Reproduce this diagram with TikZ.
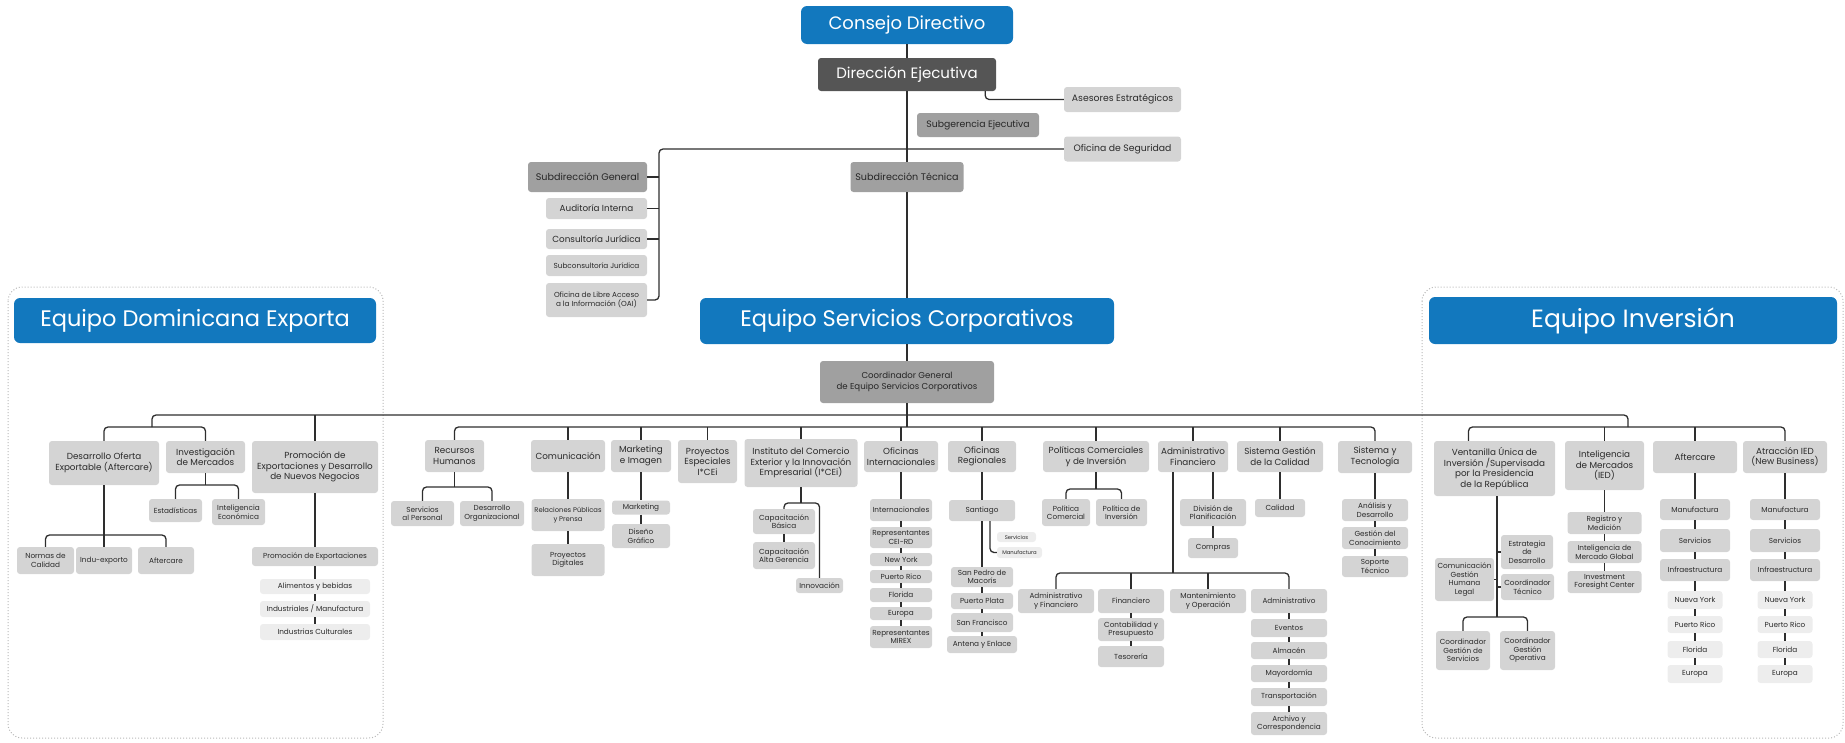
\documentclass[tikz,border=0pt]{standalone}
\usepackage{fontspec}
\setmainfont{Poppins}
\definecolor{orgblue}{HTML}{1278BE}
\definecolor{orgdark}{HTML}{555555}
\definecolor{orgmid}{HTML}{A0A0A0}
\definecolor{orggrey}{HTML}{D4D4D4}
\definecolor{orgpale}{HTML}{EDEDED}
\definecolor{orgline}{HTML}{2E2E2E}
\definecolor{orgtext}{HTML}{2A2A2A}
\definecolor{orgframe}{HTML}{B8B8B8}

\tikzset{
    box/.style={rounded corners=3pt, align=center, inner sep=1pt, text=orgtext,
      font=\fontsize{8.8}{10.5}\selectfont},
    bluebox/.style={box, fill=orgblue, text=white, rounded corners=6pt,
      font=\fontsize{22.5}{25}\selectfont},
    darkbox/.style={box, fill=orgdark, text=white, font=\fontsize{15}{17}\selectfont},
    midbox/.style={box, fill=orgmid, text=black!85, font=\fontsize{9.6}{11}\selectfont},
    greybox/.style={box, fill=orggrey},
    palebox/.style={box, fill=orgpale},
    small/.style={font=\fontsize{7.3}{8.5}\selectfont},
    tiny/.style={font=\fontsize{5.3}{6}\selectfont},
    wh/.style 2 args={minimum width=#1pt, minimum height=#2pt},
    conn/.style={draw=orgline, line width=1.3pt, rounded corners=4pt},
    frame/.style={draw=orgframe, line width=1pt, dash pattern=on 1pt off 2pt, rounded corners=14pt}
}

\begin{document}
\begin{tikzpicture}[x=1pt, y=-1pt]
    \useasboundingbox (0,0) rectangle (1845,742);

    % Dotted frames of the two teams
    \draw[frame] (8,287) rectangle (383,738);
    \draw[frame] (1422,287) rectangle (1843,738);

    % Top management
    \node[bluebox, wh={212}{38}, font=\fontsize{18}{20}\selectfont] (cd) at (907,25) {Consejo Directivo};
    \node[darkbox, wh={178}{33}] (de) at (907,74.5) {Dirección Ejecutiva};
    \node[greybox, wh={117}{25}, font=\fontsize{9.3}{11}\selectfont] (ase) at (1122.5,99.5) {Asesores Estratégicos};
    \node[midbox, wh={122}{24}, font=\fontsize{9.3}{11}\selectfont] (sge) at (978,125) {Subgerencia Ejecutiva};
    \node[greybox, wh={117}{25}, font=\fontsize{9.3}{11}\selectfont] (ofs) at (1122.5,149) {Oficina de Seguridad};
    \node[midbox, wh={119}{30}] (sdg) at (587.5,177) {Subdirección General};
    \node[midbox, wh={113}{30}] (sdt) at (907,177) {Subdirección Técnica};
    \node[greybox, wh={101}{21}] (aud) at (596.5,208.5) {Auditoría Interna};
    \node[greybox, wh={101}{20}] (cj) at (596.5,239) {Consultoría Jurídica};
    \node[greybox, wh={101}{21}, small] (scj) at (596.5,265.5) {Subconsultoría Jurídica};
    \node[greybox, wh={101}{34}, small] (oai) at (596.5,300) {Oficina de Libre Acceso\\a la Información (OAI)};

    % Teams
    \node[bluebox, wh={362}{45}] (ede) at (195,320.5) {Equipo Dominicana Exporta};
    \node[bluebox, wh={414}{46}] (esc) at (907,321) {Equipo Servicios Corporativos};
    \node[bluebox, wh={408}{47}, font=\fontsize{25}{28}\selectfont] (ein) at (1633,320.5) {Equipo Inversión};
    \node[midbox, wh={174}{42}, font=\fontsize{8.6}{10.5}\selectfont] (cg) at (907,382) {Coordinador General\\de Equipo Servicios Corporativos};

    % Equipo Dominicana Exporta
    \node[greybox, wh={110}{44}] (deo) at (104,463) {Desarrollo Oferta\\Exportable (Aftercare)};
    \node[greybox, wh={79}{32}] (inm) at (205.5,457) {Investigación\\de Mercados};
    \node[greybox, wh={126}{52}] (pro) at (315,467) {Promoción de\\Exportaciones y Desarrollo\\de Nuevos Negocios};
    \node[greybox, wh={53}{23}, small] (est) at (175.5,510.5) {Estadísticas};
    \node[greybox, wh={53}{26}, small] (ine) at (238.5,512) {Inteligencia\\Económica};
    \node[greybox, wh={57}{27}, small] (nor) at (45.5,560.5) {Normas de\\Calidad};
    \node[greybox, wh={56}{27}, small] (ind) at (104,560.5) {Indu-exporto};
    \node[greybox, wh={56}{27}, small] (aftc) at (166,560.5) {Aftercare};
    \node[greybox, wh={126}{19}, small] (pex) at (315,556.5) {Promoción de Exportaciones};
    \node[palebox, wh={110}{15}, small] (ali) at (315,586.5) {Alimentos y bebidas};
    \node[palebox, wh={110}{16}, small] (inma) at (315,609) {Industriales / Manufactura};
    \node[palebox, wh={110}{16}, small] (icu) at (315,632) {Industrias Culturales};

    % Equipo Servicios Corporativos
    \node[greybox, wh={59}{32}] (rh) at (454.5,456) {Recursos\\Humanos};
    \node[greybox, wh={74}{32}] (com) at (568,456) {Comunicación};
    \node[greybox, wh={60}{32}] (mkt) at (641,456) {Marketing\\e Imagen};
    \node[greybox, wh={59}{43}] (pes) at (707.5,461.5) {Proyectos\\Especiales\\I*CEi};
    \node[greybox, wh={113}{48}] (itc) at (801,463) {Instituto del Comercio\\Exterior y la Innovación\\Empresarial (I*CEi)};
    \node[greybox, wh={74}{31}] (oin) at (901,456.5) {Oficinas\\Internacionales};
    \node[greybox, wh={68}{31}] (ore) at (982,456.5) {Oficinas\\Regionales};
    \node[greybox, wh={106}{31}] (pol) at (1096,456.5) {Políticas Comerciales\\y de Inversión};
    \node[greybox, wh={70}{31}] (adf) at (1193,456.5) {Administrativo\\Financiero};
    \node[greybox, wh={86}{31}] (sgc) at (1280,456.5) {Sistema Gestión\\de la Calidad};
    \node[greybox, wh={74}{32}] (syt) at (1375,457) {Sistema y\\Tecnología};

    \node[greybox, wh={63}{25}, small] (spe) at (422.5,513.5) {Servicios\\al Personal};
    \node[greybox, wh={64}{25}, small] (dor) at (492,513.5) {Desarrollo\\Organizacional};
    \node[greybox, wh={73}{32}, font=\fontsize{6.8}{8.5}\selectfont] (rpp) at (568,515) {Relaciones Públicas\\y Prensa};
    \node[greybox, wh={73}{32}, small] (pdi) at (568,560) {Proyectos\\Digitales};
    \node[greybox, wh={58}{14}, small] (mk1) at (641,507.5) {Marketing};
    \node[greybox, wh={58}{24}, small] (dgr) at (641,536) {Diseño\\Gráfico};
    \node[greybox, wh={62}{25}, small] (cba) at (784,521.5) {Capacitación\\Básica};
    \node[greybox, wh={62}{27}, small] (cag) at (784,555.5) {Capacitación\\Alta Gerencia};
    \node[greybox, wh={47}{15}, small] (inn) at (819.5,585.5) {Innovación};

    \node[greybox, wh={62}{22}, small] (int) at (901,510) {Internacionales};
    \node[greybox, wh={62}{21}, small] (rce) at (901,537.5) {Representantes\\CEI-RD};
    \node[greybox, wh={62}{13}, small] (nyk) at (901,559.5) {New York};
    \node[greybox, wh={62}{13}, small] (pri) at (901,576.5) {Puerto Rico};
    \node[greybox, wh={62}{14}, small] (flo) at (901,595) {Florida};
    \node[greybox, wh={62}{13}, small] (eur) at (901,613.5) {Europa};
    \node[greybox, wh={62}{22}, small] (mir) at (901,637) {Representantes\\MIREX};

    \node[greybox, wh={66}{21}, small] (sant) at (982,510.5) {Santiago};
    \node[palebox, wh={39}{10}, tiny] (ssv) at (1016.5,537) {Servicios};
    \node[palebox, wh={45}{11}, tiny] (sma) at (1019.5,552.5) {Manufactura};
    \node[greybox, wh={62}{20}, small] (spm) at (982,577) {San Pedro de\\Macorís};
    \node[greybox, wh={62}{16}, small] (ppl) at (982,601) {Puerto Plata};
    \node[greybox, wh={62}{19}, small] (sfr) at (982,622.5) {San Francisco};
    \node[greybox, wh={70}{17}, small] (aen) at (982,644.5) {Antena y Enlace};

    \node[greybox, wh={48}{27}, small] (pco) at (1066,512.5) {Política\\Comercial};
    \node[greybox, wh={51}{27}, small] (pin) at (1121.5,512.5) {Política de\\Inversión};
    \node[greybox, wh={66}{27}, small] (dpl) at (1213,512.5) {División de\\Planificación};
    \node[greybox, wh={50}{20}, small] (cmp) at (1213,548) {Compras};
    \node[greybox, wh={50}{18}, small] (cal) at (1280,508) {Calidad};
    \node[greybox, wh={66}{22}, small] (ade) at (1375,510) {Análisis y\\Desarrollo};
    \node[greybox, wh={66}{22}, small] (gco) at (1375,538) {Gestión del\\Conocimiento};
    \node[greybox, wh={66}{21}, small] (sot) at (1375,566.5) {Soporte\\Técnico};

    \node[greybox, wh={76}{24}, small] (aef) at (1056,601) {Administrativo\\y Financiero};
    \node[greybox, wh={66}{24}, small] (fin) at (1131,601) {Financiero};
    \node[greybox, wh={76}{24}, small] (myo) at (1208,601) {Mantenimiento\\y Operación};
    \node[greybox, wh={76}{24}, small] (adm) at (1289,601) {Administrativo};
    \node[greybox, wh={66}{23}, small] (cyp) at (1131,629.5) {Contabilidad y\\Presupuesto};
    \node[greybox, wh={66}{21}, small] (tes) at (1131,656.5) {Tesorería};
    \node[greybox, wh={76}{18}, small] (eve) at (1289,628) {Eventos};
    \node[greybox, wh={76}{17}, small] (alm) at (1289,650.5) {Almacén};
    \node[greybox, wh={76}{17}, small] (may) at (1289,673.5) {Mayordomía};
    \node[greybox, wh={76}{18}, small] (tra) at (1289,697) {Transportación};
    \node[greybox, wh={76}{23}, small] (arc) at (1289,723.5) {Archivo y\\Correspondencia};

    % Equipo Inversion
    \node[greybox, wh={121}{55}] (vun) at (1494.5,468.5) {Ventanilla Única de\\Inversión /Supervisada\\por la Presidencia\\de la República};
    \node[greybox, wh={79}{49}] (ime) at (1604.5,465.5) {Inteligencia\\de Mercados\\(IED)};
    \node[greybox, wh={84}{32}] (af0) at (1695,457) {Aftercare};
    \node[greybox, wh={84}{32}] (at0) at (1785,457) {Atracción IED\\(New Business)};
    \node[greybox, wh={74}{22}, small] (rym) at (1604.5,523) {Registro y\\Medición};
    \node[greybox, wh={74}{22}, small] (img) at (1604.5,552) {Inteligencia de\\Mercado Global};
    \node[greybox, wh={74}{22}, small] (ifc) at (1604.5,582) {Investment\\Foresight Center};
    \node[greybox, wh={52}{34}, small] (esd) at (1527,552) {Estrategia\\de\\Desarrollo};
    \node[greybox, wh={53}{26}, small] (cte) at (1527.5,587) {Coordinador\\Técnico};
    \node[greybox, wh={59}{43}, small] (cgh) at (1464.5,579.5) {Comunicación\\Gestión\\Humana\\Legal};
    \node[greybox, wh={54}{39}, small] (cgs) at (1463,650.5) {Coordinador\\Gestión de\\Servicios};
    \node[greybox, wh={55}{39}, small] (cgo) at (1527.5,650.5) {Coordinador\\Gestión\\Operativa};

    \foreach \c/\x in {af/1695,at/1785}{
      \node[greybox, wh={70}{21}, small] (\c1) at (\x,509.5) {Manufactura};
      \node[greybox, wh={70}{23}, small] (\c2) at (\x,540.5) {Servicios};
      \node[greybox, wh={70}{22}, small] (\c3) at (\x,570) {Infraestructura};
      \node[palebox, wh={55}{18}, small] (\c4) at (\x,600) {Nueva York};
      \node[palebox, wh={55}{17}, small] (\c5) at (\x,624.5) {Puerto Rico};
      \node[palebox, wh={55}{17}, small] (\c6) at (\x,649.5) {Florida};
      \node[palebox, wh={55}{18}, small] (\c7) at (\x,674) {Europa};
      \draw[conn] (\c0) -- (\c1) -- (\c2) -- (\c3) -- (\c4) -- (\c5) -- (\c6) -- (\c7);
    }

    % Connectors: top
    \coordinate (sgTop) at (659,149);
    \draw[conn] (cd) -- (de);
    \draw[conn] (de) -- (sdt);
    \draw[conn] (sdt) -- (esc);
    \draw[conn] (esc) -- (cg);
    \draw[conn] ([xshift=-11pt]de.south east) |- (ase.west);
    \draw[conn] (oai.east) -| (sgTop) -- (ofs.west);
    \foreach \n in {sdg,aud,cj}
      \draw[conn] (\n.east) -- (\n.east -| sgTop);

    % Connectors: buses below the coordinator
    \coordinate (mainL) at (152,415);
    \coordinate (mainR) at (1628,415);
    \coordinate (deBus) at (152,427);
    \coordinate (inBus) at (1628,427);
    \coordinate (busC) at (907,427);
    \draw[conn] (deBus) -- (mainL) -- (mainR) -- (inBus);
    \draw[conn] (cg) -- (busC);
    \draw[conn] (rh.north) |- (busC) -| (syt.north);
    \foreach \n in {com,mkt,pes,itc,oin,ore,pol,adf,sgc}
      \draw[conn] (\n.north) -- (\n.north |- busC);
    \draw[conn] (deo.north) |- (deBus) -| (inm.north);
    \draw[conn] (pro.north) -- (pro.north |- mainL);
    \draw[conn] ([xshift=-26pt]vun.north) |- (inBus) -| (at0.north);
    \foreach \n in {ime,af0}
      \draw[conn] (\n.north) -- (\n.north |- inBus);

    % Connectors: Dominicana Exporta
    \coordinate (deoBus) at (104,535);
    \coordinate (inmBus) at (205.5,485);
    \draw[conn] (deo) -- (ind);
    \draw[conn] (nor.north) |- (deoBus) -| (aftc.north);
    \draw[conn] (inm.south) -- (inmBus);
    \draw[conn] (est.north) |- (inmBus) -| (ine.north);
    \draw[conn] (pro) -- (pex) -- (ali) -- (inma) -- (icu);

    % Connectors: Servicios Corporativos
    \coordinate (rhBus) at (454.5,487);
    \coordinate (itcBus) at (801,503);
    \coordinate (polBus) at (1096,489);
    \coordinate (afBus) at (1173,573);
    \draw[conn] (rh.south) -- (rhBus);
    \draw[conn] (spe.north) |- (rhBus) -| (dor.north);
    \draw[conn] (com) -- (rpp) -- (pdi);
    \draw[conn] (mkt) -- (mk1) -- (dgr);
    \draw[conn] (itc.south) -- (itcBus);
    \draw[conn] (cba.north) |- (itcBus) -| (inn.north);
    \draw[conn] (cba) -- (cag);
    \draw[conn] (oin) -- (int) -- (rce) -- (nyk) -- (pri) -- (flo) -- (eur) -- (mir);
    \draw[conn] (ore) -- (sant) -- (spm) -- (ppl) -- (sfr) -- (aen);
    \draw[conn] ([xshift=8pt]sant.south) |- (sma.west);
    \draw[conn] (pol.south) -- (polBus);
    \draw[conn] (pco.north) |- (polBus) -| (pin.north);
    \draw[conn] (dpl.north |- adf.south) -- (dpl.north);
    \draw[conn] (dpl) -- (cmp);
    \draw[conn] (adf.south -| afBus) -- (afBus);
    \draw[conn] (aef.north) |- (afBus) -| (adm.north);
    \foreach \n in {fin,myo}
      \draw[conn] (\n.north) -- (\n.north |- afBus);
    \draw[conn] (fin) -- (cyp) -- (tes);
    \draw[conn] (adm) -- (eve) -- (alm) -- (may) -- (tra) -- (arc);
    \draw[conn] (sgc) -- (cal);
    \draw[conn] (syt) -- (ade) -- (gco) -- (sot);

    % Connectors: Inversion
    \coordinate (vuBus) at (1497,617);
    \draw[conn] (vun.south -| vuBus) -- (vuBus);
    \draw[conn] (cgs.north) |- (vuBus) -| (cgo.north);
    \foreach \n in {esd,cte}
      \draw[conn] (\n.west) -- (\n.west -| vuBus);
    \draw[conn] (cgh.east) -- (cgh.east -| vuBus);
    \draw[conn] (ime) -- (rym) -- (img) -- (ifc);
\end{tikzpicture}
\end{document}
